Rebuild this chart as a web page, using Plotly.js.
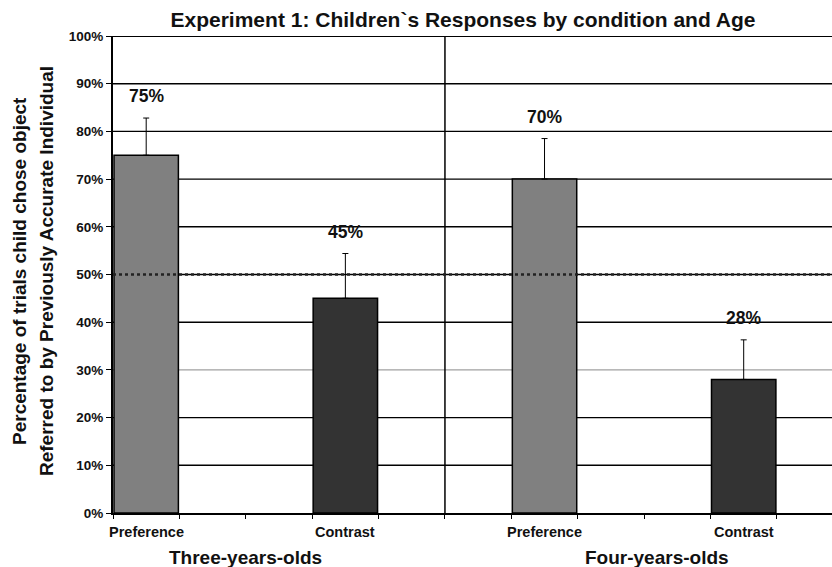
<!DOCTYPE html>
<html>
<head>
<meta charset="utf-8">
<script src="https://cdn.plot.ly/plotly-3.0.1.min.js"></script>
<style>html,body{margin:0;padding:0;background:#fff}#chart{width:832px;height:567px}</style>
</head>
<body>
<div id="chart"></div>
<script>
// ---- data ----
const conditions = ["Preference", "Contrast", "Preference", "Contrast"];
const ageGroups = ["Three-years-olds", "Four-years-olds"];
const slotPositions = [0, 3, 6, 9];
const values = [75, 45, 70, 28];
const errorsUp = [7.8, 9.4, 8.5, 8.3];
const valueLabels = ["75%", "45%", "70%", "28%"];
const barColors = ["#808080", "#333333", "#808080", "#333333"];
const yTicks = [0, 10, 20, 30, 40, 50, 60, 70, 80, 90, 100];
const chanceLevel = 50;
const lightGridLevel = 30;

const FONT = "Liberation Sans, Arial, sans-serif";
const xMax = 10.33;
const slotBounds = [];
for (let i = -0.5; i <= xMax; i += 1) slotBounds.push(i);

const bars = {
  type: "bar",
  x: slotPositions,
  y: values,
  width: 0.97,
  marker: { color: barColors, line: { color: "#000", width: 1.5 } },
  error_y: {
    type: "data", symmetric: false, array: errorsUp,
    arrayminus: values.map(() => 0),
    color: "#000", thickness: 1, width: 3
  },
  hoverinfo: "skip",
  showlegend: false
};

const annotations = [];
// value labels
values.forEach((v, i) => {
  annotations.push({
    x: slotPositions[i], y: v + errorsUp[i], xref: "x", yref: "y",
    text: "<b>" + valueLabels[i] + "</b>", showarrow: false,
    yanchor: "bottom", yshift: 10,
    font: { family: FONT, size: 17.5, color: "#111" }
  });
});
// category tick labels
conditions.forEach((c, i) => {
  annotations.push({
    x: slotPositions[i], y: 0, xref: "x", yref: "paper",
    text: "<b>" + c + "</b>", showarrow: false,
    yanchor: "top", yshift: -9,
    font: { family: FONT, size: 14.5, color: "#111" }
  });
});
// age group labels
const groupCenters = [(slotPositions[0] + slotPositions[1]) / 2, 7.7];
ageGroups.forEach((g, i) => {
  annotations.push({
    x: groupCenters[i], y: 0, xref: "x", yref: "paper",
    text: "<b>" + g + "</b>", showarrow: false,
    yanchor: "top", yshift: -32,
    font: { family: FONT, size: 19, color: "#111" }
  });
});
// y axis title (two lines)
const yTitleLines = ["Percentage of trials child chose object", "Referred to by Previously Accurate Individual"];
const yTitleX = [19, 46];
yTitleLines.forEach((t, i) => {
  annotations.push({
    x: (yTitleX[i] - 113) / 719, y: (567 - 271 - 54) / 477, xref: "paper", yref: "paper",
    text: "<b>" + t + "</b>", showarrow: false, textangle: -90,
    xanchor: "center", yanchor: "middle",
    font: { family: FONT, size: 19, color: "#111" }
  });
});

// gridlines (the 30% one is lighter in the original)
const shapes = yTicks.filter(v => v > 0).map(v => ({
  type: "line", xref: "paper", yref: "y", x0: 0, x1: 1, y0: v, y1: v,
  line: { color: v === lightGridLevel ? "#a0a0a0" : "#000", width: v === 100 ? 2 : 1.4 },
  layer: "below"
}));
shapes.push(
  { type: "line", xref: "x", yref: "y", x0: 4.5, x1: 4.5, y0: 0, y1: 100,
    line: { color: "#000", width: 1.5 }, layer: "below" },
  { type: "line", xref: "paper", yref: "y", x0: 0, x1: 1, y0: chanceLevel, y1: chanceLevel,
    line: { color: "#222", width: 2.5, dash: "dot" }, layer: "above" }
);

const layout = {
  width: 832, height: 567,
  margin: { l: 113, r: 0, t: 36, b: 54 },
  paper_bgcolor: "#fff", plot_bgcolor: "#fff",
  title: {
    text: "<b>Experiment 1: Children`s Responses by condition and Age</b>",
    xref: "container", x: 463 / 832, xanchor: "center",
    yref: "container", y: 1 - 20 / 567, yanchor: "middle",
    font: { family: FONT, size: 21, color: "#111" }
  },
  xaxis: {
    range: [-0.5, xMax], showgrid: false, zeroline: false,
    showline: true, linecolor: "#000", linewidth: 2,
    tickmode: "array", tickvals: slotBounds, ticks: "outside", ticklen: 4,
    tickcolor: "#000", showticklabels: false, fixedrange: true
  },
  yaxis: {
    range: [0, 100], showgrid: false,
    zeroline: false, showline: true, linecolor: "#000", linewidth: 2,
    tickmode: "array", tickvals: yTicks, ticktext: yTicks.map(v => v + "%"),
    ticks: "outside", ticklen: 5, tickcolor: "#000",
    tickfont: { family: FONT, size: 13.5, color: "#111", weight: "bold" },
    fixedrange: true
  },
  bargap: 0,
  annotations: annotations,
  shapes: shapes
};

Plotly.newPlot("chart", [bars], layout, { displayModeBar: false, staticPlot: true });
</script>
</body>
</html>
